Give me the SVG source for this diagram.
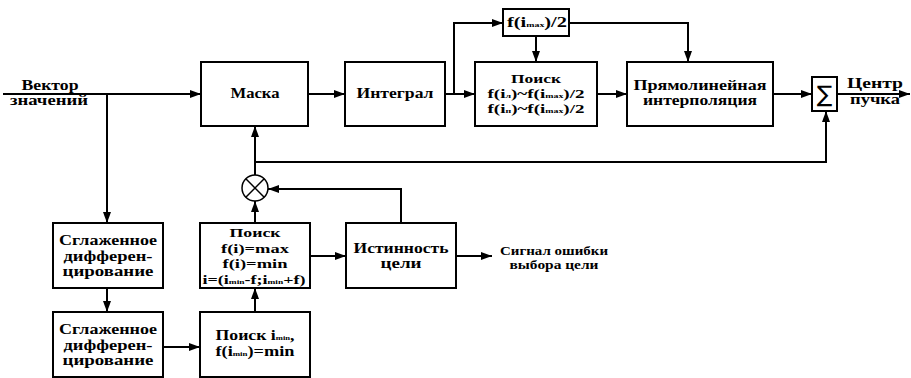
<svg xmlns="http://www.w3.org/2000/svg" width="911" height="378" viewBox="0 0 911 378">
<defs>
<marker id="ah" markerUnits="userSpaceOnUse" markerWidth="12" markerHeight="10" refX="11" refY="5" orient="auto">
<path d="M0,1 L11,5 L0,9 Z" fill="#000"/>
</marker>
<style>
.box{fill:#fff;stroke:#000;stroke-width:2}
.ln{fill:none;stroke:#000;stroke-width:2}
.ar{fill:none;stroke:#000;stroke-width:2;marker-end:url(#ah)}
text{font-family:"Liberation Serif",serif;font-weight:bold;font-size:14.5px;text-anchor:middle;fill:#000}
.sm{font-size:12.5px}
.md{font-size:13.5px}
.sub{font-size:7px}
</style>
</defs>
<rect width="911" height="378" fill="#fff"/>
<g id="connectors">
<path class="ar" d="M3,94 H201"/>
<path class="ar" d="M107,94 V223"/>
<path class="ar" d="M308,94 H345"/>
<path class="ar" d="M445,94 H475"/>
<path class="ar" d="M454,94 V23 H503"/>
<path class="ar" d="M536,36 V62"/>
<path class="ar" d="M569,23 H688 V62"/>
<path class="ar" d="M597,94 H627"/>
<path class="ar" d="M773,94 H812"/>
<path class="ar" d="M837,94 H910"/>
<path class="ar" d="M255,162 V126"/>
<path class="ar" d="M255,162 H826 V111"/>
<path class="ln" d="M255,175 V162"/>
<path class="ar" d="M255,223 V201"/>
<path class="ar" d="M401,223 V189 H268"/>
<path class="ar" d="M310,256 H346"/>
<path class="ar" d="M456,256 H492"/>
<path class="ar" d="M107,288 V312"/>
<path class="ar" d="M163,347 H200"/>
<path class="ar" d="M255,312 V288"/>
</g>
<g id="input-label"><text x="50" y="90" textLength="57" lengthAdjust="spacingAndGlyphs">Вектор</text><text x="49" y="105" textLength="78" lengthAdjust="spacingAndGlyphs">значений</text></g>
<g id="mask"><rect class="box" x="201" y="62" width="107" height="64"/><text x="255" y="98" textLength="49" lengthAdjust="spacingAndGlyphs">Маска</text></g>
<g id="integral"><rect class="box" x="345" y="62" width="100" height="64"/><text x="395" y="98" textLength="77" lengthAdjust="spacingAndGlyphs">Интеграл</text></g>
<g id="fmax2"><rect class="box" x="503" y="9" width="66" height="27"/><text x="537" y="27" textLength="60" lengthAdjust="spacingAndGlyphs">f(i<tspan class="sub">max</tspan>)/2</text></g>
<g id="search-half"><rect class="box" x="475" y="62" width="122" height="64"/>
<text class="md" x="536" y="83" textLength="50" lengthAdjust="spacingAndGlyphs">Поиск</text>
<text class="md" x="536" y="98" textLength="97" lengthAdjust="spacingAndGlyphs">f(i<tspan class="sub">л</tspan>)~f(i<tspan class="sub">max</tspan>)/2</text>
<text class="md" x="536" y="113" textLength="97" lengthAdjust="spacingAndGlyphs">f(i<tspan class="sub">п</tspan>)~f(i<tspan class="sub">max</tspan>)/2</text></g>
<g id="interp"><rect class="box" x="627" y="62" width="146" height="64"/><text x="700" y="90" textLength="133" lengthAdjust="spacingAndGlyphs">Прямолинейная</text><text x="700" y="105" textLength="114" lengthAdjust="spacingAndGlyphs">интерполяция</text></g>
<g id="sum"><rect class="box" x="812" y="77" width="25" height="34"/><text x="824.5" y="102" style="font-family:'DejaVu Sans',sans-serif;font-weight:normal;font-size:23px">∑</text></g>
<g id="output-label"><text x="875" y="88" textLength="56" lengthAdjust="spacingAndGlyphs">Центр</text><text x="875" y="104" textLength="50" lengthAdjust="spacingAndGlyphs">пучка</text></g>
<g id="mult"><circle cx="255" cy="188" r="13" fill="#fff" stroke="#000" stroke-width="1.5"/><path d="M245.8,178.8 L264.2,197.2 M264.2,178.8 L245.8,197.2" stroke="#000" stroke-width="1.5"/></g>
<g id="smooth1"><rect class="box" x="53" y="223" width="110" height="65"/><text x="108" y="245" textLength="98" lengthAdjust="spacingAndGlyphs">Сглаженное</text><text x="108" y="261" textLength="89" lengthAdjust="spacingAndGlyphs">дифферен-</text><text x="108" y="276" textLength="91" lengthAdjust="spacingAndGlyphs">цирование</text></g>
<g id="smooth2"><rect class="box" x="53" y="312" width="110" height="65"/><text x="108" y="334" textLength="98" lengthAdjust="spacingAndGlyphs">Сглаженное</text><text x="108" y="350" textLength="89" lengthAdjust="spacingAndGlyphs">дифферен-</text><text x="108" y="365" textLength="91" lengthAdjust="spacingAndGlyphs">цирование</text></g>
<g id="search-maxmin"><rect class="box" x="200" y="223" width="110" height="65"/>
<text class="md" x="255" y="237" textLength="51" lengthAdjust="spacingAndGlyphs">Поиск</text>
<text class="md" x="255" y="253" textLength="68" lengthAdjust="spacingAndGlyphs">f(i)=max</text>
<text class="md" x="255" y="268" textLength="65" lengthAdjust="spacingAndGlyphs">f(i)=min</text>
<text class="md" x="254" y="284" textLength="103" lengthAdjust="spacingAndGlyphs">i=(i<tspan class="sub">min</tspan>-f;i<tspan class="sub">min</tspan>+f)</text></g>
<g id="search-min"><rect class="box" x="200" y="312" width="110" height="65"/><text x="255" y="340" textLength="79" lengthAdjust="spacingAndGlyphs">Поиск i<tspan class="sub">min</tspan>,</text><text x="255" y="356" textLength="79" lengthAdjust="spacingAndGlyphs">f(i<tspan class="sub">min</tspan>)=min</text></g>
<g id="truth"><rect class="box" x="346" y="223" width="110" height="65"/><text x="401" y="253" textLength="95" lengthAdjust="spacingAndGlyphs">Истинность</text><text x="401" y="268" textLength="41" lengthAdjust="spacingAndGlyphs">цели</text></g>
<g id="error-label"><text class="sm" x="554" y="255" textLength="108" lengthAdjust="spacingAndGlyphs">Сигнал ошибки</text><text class="sm" x="554" y="269" textLength="89" lengthAdjust="spacingAndGlyphs">выбора цели</text></g>
</svg>
